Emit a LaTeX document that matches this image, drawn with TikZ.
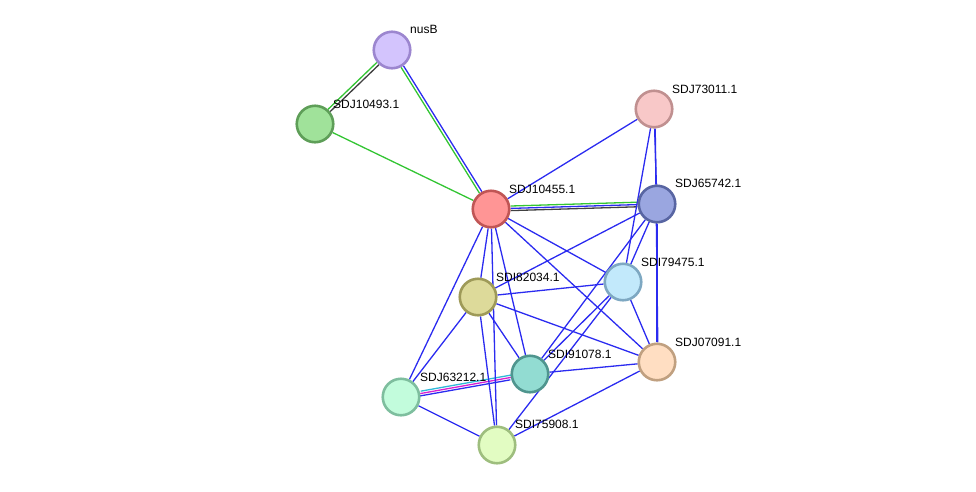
\documentclass[tikz,border=0pt]{standalone}
\usepackage{fontspec}
\setmainfont{Liberation Sans}
\usetikzlibrary{backgrounds}
\definecolor{eblue}{HTML}{2B2BF0}
\definecolor{egreen}{HTML}{33C533}
\definecolor{egray}{HTML}{404040}
\definecolor{ecyan}{HTML}{30B8D8}
\definecolor{emag}{HTML}{D820D0}
\definecolor{fnus}{HTML}{D3C4FD}\definecolor{bnus}{HTML}{9C86CF}
\definecolor{fa}{HTML}{A0E29A}\definecolor{ba}{HTML}{5E9E58}
\definecolor{fb}{HTML}{FF9595}\definecolor{bb}{HTML}{C05555}
\definecolor{fc}{HTML}{F8C8C8}\definecolor{bc}{HTML}{C09090}
\definecolor{fd}{HTML}{9AA6E0}\definecolor{bd}{HTML}{5865A2}
\definecolor{fe}{HTML}{C2E9FB}\definecolor{be}{HTML}{7EA8C2}
\definecolor{ff}{HTML}{DDDA9A}\definecolor{bf}{HTML}{9E9A58}
\definecolor{fg}{HTML}{FFDEC2}\definecolor{bg}{HTML}{C0A080}
\definecolor{fh}{HTML}{92DCD2}\definecolor{bh}{HTML}{4F958E}
\definecolor{fi}{HTML}{C2FCDC}\definecolor{bi}{HTML}{7EBE9E}
\definecolor{fj}{HTML}{E2FCC2}\definecolor{bj}{HTML}{9EBE7E}
\begin{document}
\begin{tikzpicture}[x=1pt,y=-1pt,
  prot/.style 2 args={circle,minimum size=36.5pt,inner sep=0pt,line width=2.6pt,draw=#1,fill=#2},
  lbl/.style={anchor=base west,font=\fontsize{12}{14}\selectfont,inner sep=0pt},
  ed/.style={line width=1.3pt,draw=eblue}]
\useasboundingbox (0,0) rectangle (976,491);

\node[prot={bnus}{fnus}] (nusB) at (392,50) {};
\node[prot={ba}{fa}] (n10493) at (315,124) {};
\node[prot={bb}{fb}] (n10455) at (491,209) {};
\node[prot={bc}{fc}] (n73011) at (654,109) {};
\node[prot={bd}{fd}] (n65742) at (657,204) {};
\node[prot={be}{fe}] (n79475) at (623,282) {};
\node[prot={bf}{ff}] (n82034) at (478,297) {};
\node[prot={bg}{fg}] (n07091) at (657,362) {};
\node[prot={bh}{fh}] (n91078) at (530,374) {};
\node[prot={bi}{fi}] (n63212) at (401,397) {};
\node[prot={bj}{fj}] (n75908) at (497,445) {};

\node[lbl] (lnusB) at ([shift={(18,-17)}]nusB.center) {nusB};
\node[lbl] (l10493) at ([shift={(18,-16)}]n10493.center) {SDJ10493.1};
\node[lbl] (l10455) at ([shift={(18,-16)}]n10455.center) {SDJ10455.1};
\node[lbl] (l73011) at ([shift={(18,-16)}]n73011.center) {SDJ73011.1};
\node[lbl] (l65742) at ([shift={(18,-17)}]n65742.center) {SDJ65742.1};
\node[lbl] (l79475) at ([shift={(18,-16)}]n79475.center) {SDI79475.1};
\node[lbl] (l82034) at ([shift={(18,-16)}]n82034.center) {SDI82034.1};
\node[lbl] (l07091) at ([shift={(18,-16)}]n07091.center) {SDJ07091.1};
\node[lbl] (l91078) at ([shift={(18,-16)}]n91078.center) {SDI91078.1};
\node[lbl] (l63212) at ([shift={(19,-16)}]n63212.center) {SDJ63212.1};
\node[lbl] (l75908) at ([shift={(18,-17)}]n75908.center) {SDI75908.1};

\begin{scope}[on background layer]
% multi-evidence edges
\draw[ed,draw=egreen,transform canvas={shift={(-1.1pt,1.1pt)}}] (nusB) -- (n10493);
\draw[ed,draw=egray,transform canvas={shift={(1.1pt,-1.1pt)}}] (nusB) -- (n10493);
\draw[ed,draw=eblue,transform canvas={shift={(1.2pt,0.75pt)}}] (nusB) -- (n10455);
\draw[ed,draw=egreen,transform canvas={shift={(-1.2pt,-0.75pt)}}] (nusB) -- (n10455);
\draw[ed,draw=egreen] (n10493) -- (n10455);
\draw[ed,draw=egreen,transform canvas={yshift=2.4pt}] (n10455) -- (n65742);
\draw[ed,draw=eblue] (n10455) -- (n65742);
\draw[ed,draw=egray,transform canvas={yshift=-2.2pt}] (n10455) -- (n65742);
\draw[ed,draw=ecyan,transform canvas={shift={(0.45pt,2.4pt)}}] (n63212) -- (n91078);
\draw[ed,draw=emag] (n63212) -- (n91078);
\draw[ed,draw=eblue,transform canvas={shift={(-0.45pt,-2.4pt)}}] (n63212) -- (n91078);
% blue edges
\draw[ed] (n10455) -- (n73011);
\draw[ed] (n10455) -- (n79475);
\draw[ed] (n10455) -- (n07091);
\draw[ed] (n10455) -- (n82034);
\draw[ed] (n10455) -- (n91078);
\draw[ed] (n10455) -- (n63212);
\draw[ed] (n10455) -- (n75908);
\draw[ed] (n73011) -- (n65742);
\draw[ed] (n73011) -- (n79475);
\draw[ed,transform canvas={xshift=1pt}] (n73011) -- (n07091);
\draw[ed] (n65742) -- (n79475);
\draw[ed] (n65742) -- (n82034);
\draw[ed] (n65742) -- (n91078);
\draw[ed] (n65742) -- (n07091);
\draw[ed] (n79475) -- (n82034);
\draw[ed] (n79475) -- (n07091);
\draw[ed] (n79475) -- (n91078);
\draw[ed] (n79475) -- (n75908);
\draw[ed] (n82034) -- (n07091);
\draw[ed] (n82034) -- (n91078);
\draw[ed] (n82034) -- (n63212);
\draw[ed] (n82034) -- (n75908);
\draw[ed] (n91078) -- (n07091);
\draw[ed] (n63212) -- (n75908);
\draw[ed] (n75908) -- (n07091);
\end{scope}
\end{tikzpicture}
\end{document}
